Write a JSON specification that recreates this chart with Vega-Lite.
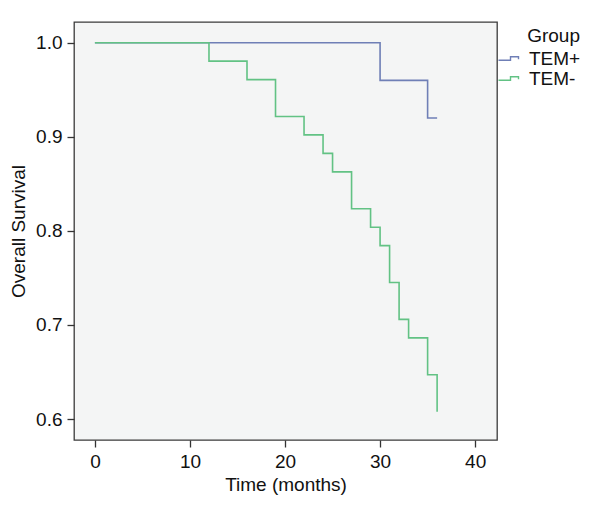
{
  "$schema": "https://vega.github.io/schema/vega-lite/v6.json",
  "width": 423,
  "height": 418,
  "autosize": {"type": "none"},
  "padding": {"left": 74, "top": 22, "right": 95, "bottom": 66},
  "background": "white",
  "config": {
    "view": {"fill": "#f4f5f5", "stroke": "#3a3a3a", "strokeWidth": 1.3},
    "font": "Liberation Sans"
  },
  "data": {
    "values": [
      {"group": "TEM+", "time": 0, "surv": 1.0},
      {"group": "TEM+", "time": 30, "surv": 0.96},
      {"group": "TEM+", "time": 35, "surv": 0.92},
      {"group": "TEM+", "time": 36, "surv": 0.92},
      {"group": "TEM-", "time": 0, "surv": 1.0},
      {"group": "TEM-", "time": 12, "surv": 0.9804},
      {"group": "TEM-", "time": 16, "surv": 0.9608},
      {"group": "TEM-", "time": 19, "surv": 0.9216},
      {"group": "TEM-", "time": 22, "surv": 0.902},
      {"group": "TEM-", "time": 24, "surv": 0.8824},
      {"group": "TEM-", "time": 25, "surv": 0.8627},
      {"group": "TEM-", "time": 27, "surv": 0.8235},
      {"group": "TEM-", "time": 29, "surv": 0.8039},
      {"group": "TEM-", "time": 30, "surv": 0.7843},
      {"group": "TEM-", "time": 31, "surv": 0.7451},
      {"group": "TEM-", "time": 32, "surv": 0.7059},
      {"group": "TEM-", "time": 33, "surv": 0.6863},
      {"group": "TEM-", "time": 35, "surv": 0.6471},
      {"group": "TEM-", "time": 36, "surv": 0.6078}
    ]
  },
  "mark": {"type": "line", "interpolate": "step-after", "strokeWidth": 1.6},
  "encoding": {
    "x": {
      "field": "time", "type": "quantitative",
      "scale": {"domain": [-2.2, 42.3], "nice": false, "zero": false},
      "axis": {
        "title": "Time (months)", "values": [0, 10, 20, 30, 40], "grid": false, "domain": false,
        "tickSize": 7, "tickColor": "#333", "tickWidth": 1.3,
        "labelFontSize": 19, "labelColor": "#111", "labelPadding": 5, "labelFont": "Liberation Sans",
        "titleFontSize": 19, "titleFontWeight": "normal", "titleColor": "#111", "titlePadding": 4, "titleFont": "Liberation Sans"
      }
    },
    "y": {
      "field": "surv", "type": "quantitative",
      "scale": {"domain": [0.5777, 1.022], "nice": false, "zero": false},
      "axis": {
        "title": "Overall Survival", "values": [0.6, 0.7, 0.8, 0.9, 1.0], "format": ".1f", "grid": false, "domain": false,
        "tickSize": 7, "tickColor": "#333", "tickWidth": 1.3,
        "labelFontSize": 19, "labelColor": "#111", "labelPadding": 5, "labelFont": "Liberation Sans",
        "titleFontSize": 19, "titleFontWeight": "normal", "titleColor": "#111", "titlePadding": 7, "titleFont": "Liberation Sans"
      }
    },
    "color": {
      "field": "group", "type": "nominal",
      "scale": {"domain": ["TEM+", "TEM-"], "range": ["#6f7fb6", "#62c284"]},
      "legend": {
        "title": "Group", "orient": "none", "legendX": 423, "legendY": 5,
        "titleAnchor": "end", "titleFontSize": 19, "titleFontWeight": "normal", "titleColor": "#111", "titleFont": "Liberation Sans", "titlePadding": 3,
        "labelFontSize": 19, "labelColor": "#111", "labelFont": "Liberation Sans", "labelOffset": 13,
        "symbolType": "M-1,0.22 L0.5,0.22 L0.5,-0.22 L1.5,-0.22 L1.5,0.08",
        "symbolSize": 256, "symbolStrokeWidth": 1.4, "symbolFillColor": "transparent",
        "rowPadding": -2, "padding": 0
      }
    }
  }
}
